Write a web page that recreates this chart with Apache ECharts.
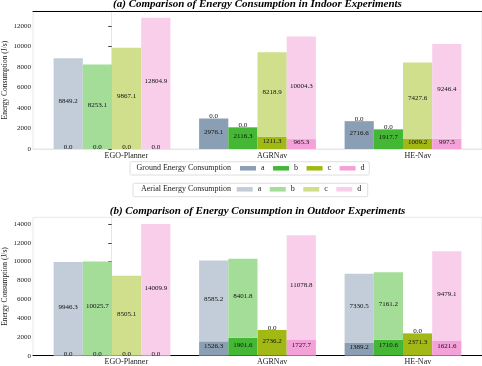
<!DOCTYPE html>
<html>
<head>
<meta charset="utf-8">
<script src="https://cdn.jsdelivr.net/npm/echarts@6/dist/echarts.min.js"></script>
<style>html,body{margin:0;padding:0;background:#fff;}#c{width:482px;height:366px;}</style>
</head>
<body>
<div id="c"></div>
<script>
const cats = ['EGO-Planner', 'AGRNav', 'HE-Nav'];
const groupPos = [0, 1, 2];
const labelPos = [0.1, 1.1, 2.1];
const letters = ['a', 'b', 'c', 'd'];

const inGroundA = [0.0, 2976.1, 2716.6];
const inGroundB = [0.0, 2116.3, 1917.7];
const inGroundC = [0.0, 1211.3, 1009.2];
const inGroundD = [0.0, 965.3, 997.5];
const inAerialA = [8849.2, 0.0, 0.0];
const inAerialB = [8253.1, 0.0, 0.0];
const inAerialC = [9867.1, 8218.9, 7427.6];
const inAerialD = [12804.9, 10004.3, 9246.4];

const outGroundA = [0.0, 1526.3, 1389.2];
const outGroundB = [0.0, 1901.6, 1710.6];
const outGroundC = [0.0, 2736.2, 2371.3];
const outGroundD = [0.0, 1727.7, 1621.6];
const outAerialA = [9946.3, 8585.2, 7330.5];
const outAerialB = [10025.7, 8401.8, 7161.2];
const outAerialC = [8505.1, 0.0, 0.0];
const outAerialD = [14009.9, 11078.8, 9479.1];

const inTicks = [0, 2000, 4000, 6000, 8000, 10000, 12000];
const outTicks = [0, 2000, 4000, 6000, 8000, 10000, 12000, 14000];

const groundColors = ['#8a9fb4', '#44b835', '#a2b915', '#f5a1d9'];
const aerialColors = ['#c2cdd9', '#a3dd98', '#cfdf8b', '#f9ceea'];

const FONT = 'Liberation Serif';
const inGround = [inGroundA, inGroundB, inGroundC, inGroundD];
const inAerial = [inAerialA, inAerialB, inAerialC, inAerialD];
const outGround = [outGroundA, outGroundB, outGroundC, outGroundD];
const outAerial = [outAerialA, outAerialB, outAerialC, outAerialD];

function maxTotal(g, a) {
  let m = 0;
  for (let k = 0; k < 4; k++) for (let i = 0; i < 3; i++) m = Math.max(m, g[k][i] + a[k][i]);
  return m;
}
const inMax = maxTotal(inGround, inAerial) * 1.05;
const outMax = maxTotal(outGround, outAerial) * 1.05;

// layout (pixels)
const TOP_A = 11.2, H_A = 137.8, TOP_B = 217.3, H_B = 138.4;
const FRAME_L = 33, BAR_L = 39.25, BAR_W = 436.5;
const XMIN = -0.54, XMAX = 2.54;

function mk(name, vals, color, stack, axisIdx) {
  return {
    type: 'bar', name: name, stack: stack,
    xAxisIndex: axisIdx, yAxisIndex: axisIdx,
    barWidth: 29.2, barGap: '0%',
    itemStyle: { color: color },
    data: vals,
    label: {
      show: true, position: 'inside', offset: [0, -2],
      formatter: p => Number(p.value).toFixed(1),
      fontSize: 7, fontFamily: FONT, color: '#111'
    },
    emphasis: { disabled: true }
  };
}
const series = [];
[[inGround, inAerial, 'in', 1], [outGround, outAerial, 'out', 3]].forEach(([g, a, p, ai]) => {
  for (let k = 0; k < 4; k++) series.push(mk('g' + letters[k], g[k], groundColors[k], p + letters[k], ai));
  for (let k = 0; k < 4; k++) series.push(mk('a' + letters[k], a[k], aerialColors[k], p + letters[k], ai));
});

function frameX(gi, lineColor) {
  return {
    type: 'value', gridIndex: gi, min: XMIN, max: XMAX,
    axisLine: { show: true, lineStyle: { color: lineColor, width: 1 } },
    axisTick: { show: false },
    splitLine: { show: false },
    axisLabel: {
      customValues: labelPos, formatter: v => cats[Math.round(v - 0.1)],
      fontSize: 8, fontFamily: FONT, color: '#222', margin: 2.5
    }
  };
}
function frameY(gi, max, ticks) {
  return {
    type: 'value', gridIndex: gi, min: 0, max: max,
    name: 'Energy Consumption (J/s)', nameLocation: 'middle', nameGap: 24, nameMoveOverlap: false,
    nameTextStyle: { fontSize: 7.5, fontFamily: FONT, color: '#222' },
    axisLine: { show: true, lineStyle: { color: '#e6e6e6' } },
    axisTick: { show: true, length: 3.5, customValues: ticks, lineStyle: { color: '#444' } },
    splitLine: { show: false },
    axisLabel: { customValues: ticks, formatter: v => String(v), fontSize: 7, fontFamily: FONT, color: '#222', margin: 2 }
  };
}
function barX(gi) {
  return { type: 'category', gridIndex: gi, data: cats, show: false, boundaryGap: true };
}
function barY(gi, max) {
  return { type: 'value', gridIndex: gi, min: 0, max: max, show: false, splitLine: { show: false } };
}

const option = {
  animation: false,
  grid: [
    { left: FRAME_L, right: 0, top: TOP_A, height: H_A, show: true, borderColor: '#e8e8e8', borderWidth: 1, outerBoundsMode: 'none' },
    { left: BAR_L, width: BAR_W, top: TOP_A, height: H_A, show: false, outerBoundsMode: 'none' },
    { left: FRAME_L, right: 0, top: TOP_B, height: H_B, show: true, borderColor: '#e8e8e8', borderWidth: 1, outerBoundsMode: 'none' },
    { left: BAR_L, width: BAR_W, top: TOP_B, height: H_B, show: false, outerBoundsMode: 'none' }
  ],
  xAxis: [
    frameX(0, '#e6e6e6'),
    barX(1),
    frameX(2, '#000'),
    barX(3),
    { type: 'value', gridIndex: 0, position: 'top', min: XMIN, max: XMAX,
      axisLine: { show: true, lineStyle: { color: '#000', width: 1 } },
      axisTick: { show: false }, axisLabel: { show: false }, splitLine: { show: false } }
  ],
  yAxis: [frameY(0, inMax, inTicks), barY(1, inMax), frameY(2, outMax, outTicks), barY(3, outMax)],
  legend: [
    { data: ['ga', 'gb', 'gc', 'gd'], formatter: n => n.slice(1), left: 240, top: 163.3, padding: 0,
      orient: 'horizontal', icon: 'rect', itemWidth: 16, itemHeight: 4.5, itemGap: 8.5, selectedMode: false,
      textStyle: { fontSize: 8, fontFamily: FONT, color: '#222', lineHeight: 10 } },
    { data: ['aa', 'ab', 'ac', 'ad'], formatter: n => n.slice(1), left: 236.7, top: 184.3, padding: 0,
      orient: 'horizontal', icon: 'rect', itemWidth: 16, itemHeight: 4.5, itemGap: 8.5, selectedMode: false,
      textStyle: { fontSize: 8, fontFamily: FONT, color: '#222', lineHeight: 10 } }
  ],
  graphic: [
    { type: 'rect', z: -1, shape: { x: 130, y: 161.7, width: 239.3, height: 13.3, r: 1.5 },
      style: { fill: '#fff', stroke: '#d6d6d6', lineWidth: 0.8 } },
    { type: 'rect', z: -1, shape: { x: 133, y: 183.3, width: 234.7, height: 13.4, r: 1.5 },
      style: { fill: '#fff', stroke: '#d6d6d6', lineWidth: 0.8 } },
    { type: 'text', style: { text: 'Ground Energy Consumption', x: 231, y: 168.3, font: '8px "Liberation Serif"', fill: '#222',
      textAlign: 'right', textVerticalAlign: 'middle', align: 'right', verticalAlign: 'middle' } },
    { type: 'text', style: { text: 'Aerial Energy Consumption', x: 231, y: 189.3, font: '8px "Liberation Serif"', fill: '#222',
      textAlign: 'right', textVerticalAlign: 'middle', align: 'right', verticalAlign: 'middle' } },
    { type: 'text', style: { text: '(a) Comparison of Energy Consumption in Indoor Experiments', x: 257.5, y: 4,
      font: 'italic bold 11px "Liberation Serif"', fill: '#000',
      textAlign: 'center', textVerticalAlign: 'middle', align: 'center', verticalAlign: 'middle' } },
    { type: 'text', style: { text: '(b) Comparison of Energy Consumption in Outdoor Experiments', x: 257.5, y: 211.5,
      font: 'italic bold 11px "Liberation Serif"', fill: '#000',
      textAlign: 'center', textVerticalAlign: 'middle', align: 'center', verticalAlign: 'middle' } }
  ],
  series: series
};
const chart = echarts.init(document.getElementById('c'), null, { renderer: 'canvas' });
chart.setOption(option);
</script>
</body>
</html>
